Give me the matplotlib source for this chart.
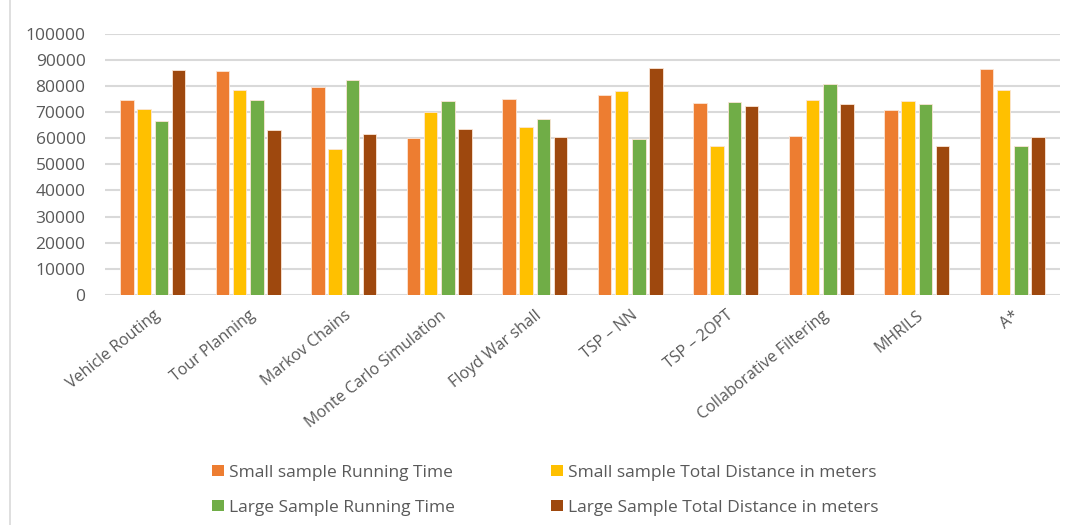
import matplotlib
matplotlib.use("Agg")
import matplotlib.pyplot as plt
import numpy as np
from matplotlib.patches import Patch
from matplotlib.lines import Line2D

categories = ["Vehicle Routing", "Tour Planning", "Markov Chains", "Monte Carlo Simulation",
              "Floyd War shall", "TSP – NN", "TSP – 2OPT", "Collaborative Filtering",
              "MHRILS", "A*"]
small_running = [74600, 85600, 79600, 60100, 74900, 76700, 73600, 60800, 70800, 86400]
small_distance = [71200, 78300, 56000, 69900, 64200, 78100, 57100, 74700, 74200, 78300]
large_running = [66600, 74700, 82400, 74100, 67300, 59600, 74000, 80600, 73100, 56900]
large_distance = [86000, 63100, 61500, 63500, 60300, 86900, 72200, 73100, 57100, 60600]
series_names = ["Small sample Running Time", "Small sample Total Distance in meters",
                "Large Sample Running Time", "Large Sample Total Distance in meters"]
colors = ["#ED7D31", "#FFC000", "#70AD47", "#9E480E"]
yticks = list(range(0, 100001, 10000))

plt.rcParams["font.family"] = ["Open Sans", "DejaVu Sans"]
text_color = "#595959"

fig = plt.figure(figsize=(10.79, 5.25), dpi=100)
ax = fig.add_axes([105 / 1079, 1 - 295 / 525, 955 / 1079, (295 - 33.7) / 525])

x = np.arange(len(categories))
step = 0.181
width = 0.141
for i, (vals, c) in enumerate(zip([small_running, small_distance, large_running, large_distance], colors)):
    ax.bar(x + (i - 1.5) * step, vals, width=width, color=c, edgecolor="#FBE5D6", linewidth=0.6, zorder=3)

ax.set_xlim(-0.5, len(categories) - 0.5)
ax.set_ylim(0, 100000)
ax.set_yticks(yticks)
ax.set_yticklabels([str(v) for v in yticks], fontsize=12.5, color=text_color)
ax.yaxis.grid(True, color="#D9D9D9", linewidth=1.5, zorder=0)
ax.set_axisbelow(True)
for s in ax.spines.values():
    s.set_visible(False)
ax.tick_params(axis="y", length=0, pad=14)
ax.tick_params(axis="x", length=0, pad=9)
ax.set_xticks(x)
ax.set_xticklabels(categories, rotation=39, ha="right", rotation_mode="anchor",
                   fontsize=11.5, color=text_color)

# chart frame edge on the left
fig.add_artist(Line2D([10 / 1079, 10 / 1079], [0, 1], color="#D9D9D9", linewidth=1.2))

handles = [Patch(facecolor=c, edgecolor="none") for c in colors]
legend_kw = dict(loc="upper left", ncol=1, frameon=False, fontsize=12.5, labelcolor=text_color,
                 handlelength=0.7, handleheight=0.6, handletextpad=0.3, labelspacing=1.1,
                 borderpad=0, borderaxespad=0)
leg1 = fig.legend([handles[0], handles[2]], [series_names[0], series_names[2]],
                  bbox_to_anchor=(212 / 1079, 1 - 465 / 525), **legend_kw)
leg2 = fig.legend([handles[1], handles[3]], [series_names[1], series_names[3]],
                  bbox_to_anchor=(551 / 1079, 1 - 465 / 525), **legend_kw)

fig.savefig("out.png", dpi=100)
